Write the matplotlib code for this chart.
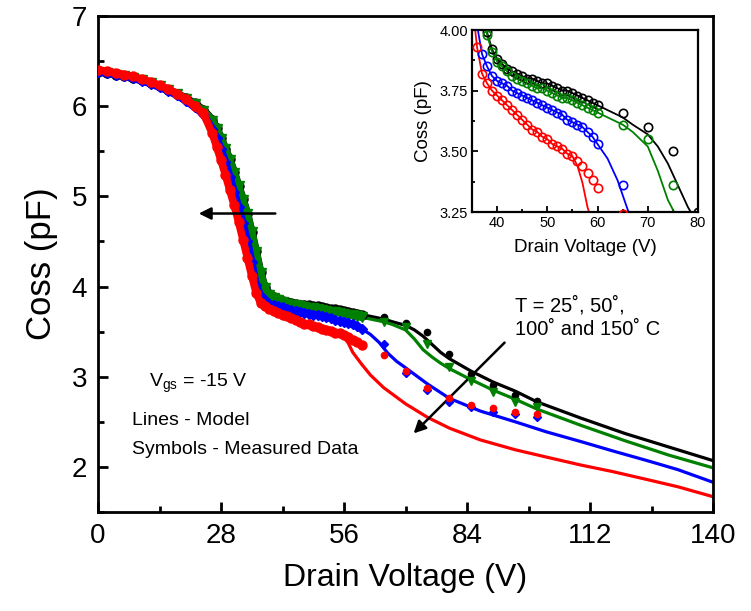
import matplotlib
matplotlib.use("Agg")
import matplotlib.pyplot as plt
from matplotlib.ticker import MultipleLocator

plt.rcParams['font.family'] = ['Liberation Sans', 'DejaVu Sans']
plt.rcParams['mathtext.fontset'] = 'custom'
plt.rcParams['mathtext.rm'] = 'Liberation Sans'

# measured Coss (pF) vs drain voltage, dense sweep 0-60 V
v_dense = [0, 2, 4, 6, 8, 10, 12, 14, 16, 18, 20, 22, 24, 26,
           27, 28, 29, 30, 31, 32, 33, 34, 35, 36, 37, 38, 39, 40,
           41, 42, 43, 44, 45, 46, 47, 48, 49, 50, 51, 52, 53, 54,
           55, 56, 57, 58, 59, 60]
c25_dense = [6.38, 6.37, 6.35, 6.33, 6.31, 6.29, 6.26, 6.22, 6.18, 6.14, 6.09, 6.03, 5.96, 5.85,
             5.76, 5.65, 5.53, 5.41, 5.27, 5.12, 4.97, 4.81, 4.61, 4.39, 4.16, 3.99, 3.92, 3.88,
             3.86, 3.84, 3.83, 3.82, 3.81, 3.80, 3.80, 3.79, 3.78, 3.78, 3.77, 3.76, 3.75, 3.75,
             3.74, 3.73, 3.72, 3.71, 3.70, 3.69]
c50_dense = [6.38, 6.37, 6.35, 6.33, 6.31, 6.29, 6.26, 6.22, 6.18, 6.13, 6.08, 6.02, 5.95, 5.84,
             5.75, 5.64, 5.52, 5.40, 5.26, 5.11, 4.96, 4.80, 4.60, 4.38, 4.15, 3.98, 3.91, 3.87,
             3.85, 3.83, 3.81, 3.80, 3.79, 3.78, 3.77, 3.76, 3.76, 3.75, 3.74, 3.73, 3.72, 3.72,
             3.71, 3.70, 3.69, 3.68, 3.67, 3.66]
c100_dense = [6.38, 6.37, 6.35, 6.33, 6.31, 6.28, 6.25, 6.21, 6.17, 6.12, 6.06, 5.99, 5.91, 5.75,
              5.65, 5.52, 5.38, 5.22, 5.05, 4.88, 4.70, 4.50, 4.27, 4.02, 3.90, 3.85, 3.81, 3.79,
              3.78, 3.77, 3.75, 3.74, 3.73, 3.72, 3.71, 3.70, 3.69, 3.68, 3.67, 3.66, 3.65, 3.63,
              3.62, 3.61, 3.60, 3.58, 3.56, 3.53]
c150_dense = [6.40, 6.39, 6.37, 6.35, 6.33, 6.30, 6.27, 6.23, 6.19, 6.14, 6.08, 6.00, 5.92, 5.70,
              5.55, 5.40, 5.24, 5.07, 4.90, 4.72, 4.52, 4.32, 4.12, 3.93, 3.82, 3.78, 3.75, 3.73,
              3.71, 3.69, 3.67, 3.65, 3.63, 3.61, 3.59, 3.58, 3.56, 3.55, 3.53, 3.52, 3.51, 3.49,
              3.48, 3.46, 3.44, 3.41, 3.38, 3.35]

# measured, sparse points above 60 V
v_sparse = [65, 70, 75, 80, 85, 90, 95, 100]
c25_sparse = [3.66, 3.60, 3.50, 3.25, 3.03, 2.91, 2.80, 2.73]
c50_sparse = [3.61, 3.55, 3.36, 3.11, 2.95, 2.83, 2.72, 2.66]
c100_sparse = [3.36, 3.04, 2.85, 2.72, 2.66, 2.61, 2.59, 2.55]
c150_sparse = [3.24, 3.06, 2.87, 2.76, 2.69, 2.65, 2.61, 2.59]

# model tails (below these voltages the model follows the measured data)
v25_model = [60, 65, 67, 70, 72, 74, 76, 78, 80, 85, 90, 95, 100, 110, 120, 130, 140]
c25_model = [3.69, 3.64, 3.61, 3.57, 3.52, 3.45, 3.36, 3.27, 3.20, 3.06, 2.94, 2.84, 2.72, 2.54, 2.37, 2.22, 2.07]
v50_model = [60, 65, 67, 70, 72, 74, 76, 78, 80, 84, 90, 95, 100, 110, 120, 130, 140]
c50_model = [3.66, 3.61, 3.58, 3.52, 3.42, 3.30, 3.22, 3.15, 3.09, 2.99, 2.85, 2.75, 2.64, 2.46, 2.29, 2.13, 1.99]
v100_model = [60, 62, 64, 66, 68, 70, 75, 80, 87, 95, 102, 110, 117, 125, 132, 140]
c100_model = [3.53, 3.47, 3.38, 3.26, 3.17, 3.10, 2.92, 2.76, 2.62, 2.50, 2.39, 2.28, 2.18, 2.07, 1.97, 1.83]
v150_model = [56, 57, 58, 60, 62, 65, 70, 75, 80, 87, 95, 102, 110, 117, 125, 132, 140]
c150_model = [3.44, 3.37, 3.27, 3.14, 3.02, 2.88, 2.70, 2.55, 2.43, 2.30, 2.19, 2.11, 2.02, 1.95, 1.86, 1.78, 1.67]

colors = ['black', '#008000', 'blue', 'red']
markers = ['o', 'v', 'D', 'o']
dense = [c25_dense, c50_dense, c100_dense, c150_dense]
sparse = [c25_sparse, c50_sparse, c100_sparse, c150_sparse]
models = [(v25_model, c25_model, 60), (v50_model, c50_model, 60),
          (v100_model, c100_model, 60), (v150_model, c150_model, 56)]


def model_curve(i):
    vm, cm, vcut = models[i]
    vx = [v for v in v_dense if v < vcut] + vm
    cy = [c for v, c in zip(v_dense, dense[i]) if v < vcut] + cm
    return vx, cy


fig = plt.figure(figsize=(7.51, 6.11), dpi=100)
ax = fig.add_axes([0.1305, 0.162, 0.8189, 0.8118])

for i in range(4):
    vx, cy = model_curve(i)
    ax.plot(vx, cy, color=colors[i], lw=2.3, zorder=2)
for i in range(4):
    ax.plot(v_dense, dense[i], color=colors[i], lw=5.5, zorder=3, solid_capstyle='round')
    ax.plot(v_dense, dense[i], ls='none', marker=markers[i], ms=6.5 if markers[i] != 'D' else 5,
            color=colors[i], zorder=3)
    ax.plot(v_sparse, sparse[i], ls='none', marker=markers[i],
            ms=6 if markers[i] == 'v' else 4.5, color=colors[i], zorder=4)

ax.set_xlim(0, 140)
ax.set_ylim(1.5, 7)
ax.xaxis.set_major_locator(MultipleLocator(28))
ax.xaxis.set_minor_locator(MultipleLocator(14))
ax.yaxis.set_major_locator(MultipleLocator(1))
ax.yaxis.set_minor_locator(MultipleLocator(0.5))
ax.tick_params(which='both', direction='in', width=2, labelsize=20, top=False, right=False)
ax.tick_params(which='major', length=7, pad=8)
ax.tick_params(which='minor', length=4.5)
for s in ax.spines.values():
    s.set_linewidth(2)
ax.set_xlabel('Drain Voltage (V)', fontsize=23, labelpad=10)
ax.set_ylabel('Coss (pF)', fontsize=25, labelpad=10)

ax.annotate('', xy=(22.3, 4.81), xytext=(41, 4.81),
            arrowprops=dict(arrowstyle='-|>', color='black', lw=1.8, mutation_scale=18))
ax.annotate('', xy=(71.4, 2.35), xytext=(93, 3.40),
            arrowprops=dict(arrowstyle='-|>', color='black', lw=1.8, mutation_scale=18))
ax.text(95, 3.66, 'T = 25˚, 50˚,\n100˚ and 150˚ C', fontsize=14.5, va='center',
        linespacing=1.3)
ax.text(11.5, 2.93, 'V$_{\\mathrm{gs}}$ = -15 V', fontsize=14, va='center')
ax.text(7.8, 2.51, 'Lines - Model', fontsize=14, va='center')
ax.text(7.8, 2.19, 'Symbols - Measured Data', fontsize=14, va='center')

# inset: zoom on the knee region
axi = fig.add_axes([0.6285, 0.6530, 0.3009, 0.2979])
for i in range(4):
    vx, cy = model_curve(i)
    axi.plot(vx, cy, color=colors[i], lw=1.3, zorder=2)
for i in range(4):
    axi.plot(v_dense + v_sparse, dense[i] + sparse[i], ls='none', marker='o', ms=6,
             mfc='none', mec=colors[i], mew=1.2, zorder=3, clip_on=True)
axi.set_xlim(35, 80)
axi.set_ylim(3.25, 4.0)
axi.xaxis.set_major_locator(MultipleLocator(10))
axi.xaxis.set_minor_locator(MultipleLocator(5))
axi.yaxis.set_major_locator(MultipleLocator(0.25))
axi.yaxis.set_minor_locator(MultipleLocator(0.125))
axi.tick_params(which='both', direction='in', width=1.3, labelsize=10.5, top=False, right=False)
axi.tick_params(which='major', length=4, pad=3)
axi.tick_params(which='minor', length=2.5)
axi.yaxis.set_major_formatter(matplotlib.ticker.FormatStrFormatter('%.2f'))
for s in axi.spines.values():
    s.set_linewidth(1.6)
axi.set_xlabel('Drain Voltage (V)', fontsize=13.5, labelpad=6)
axi.set_ylabel('Coss (pF)', fontsize=13.5, labelpad=5)

fig.savefig('out.png', dpi=100)
